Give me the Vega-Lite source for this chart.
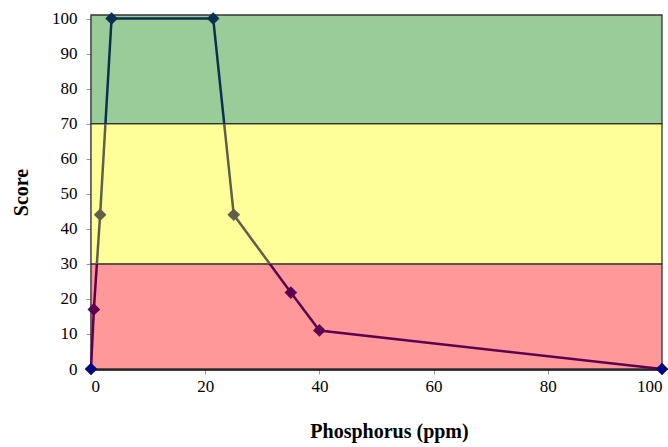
{
  "$schema": "https://vega.github.io/schema/vega-lite/v6.json",
  "width": 571,
  "height": 354,
  "autosize": {"type": "none"},
  "padding": {"left": 91, "top": 15, "right": 6, "bottom": 78},
  "background": "white",
  "config": {
    "view": {"stroke": null},
    "font": "Liberation Serif",
    "axis": {
      "labelFont": "Liberation Serif",
      "titleFont": "Liberation Serif",
      "labelFontSize": 17,
      "labelColor": "#000",
      "labelOverlap": false,
      "titleFontSize": 20,
      "titleFontWeight": "bold",
      "titleColor": "#000",
      "grid": false,
      "tickColor": "#999",
      "tickSize": 5,
      "domainColor": "#000"
    }
  },
  "datasets": {
    "bands": [
      {"lo": 0, "hi": 30, "zone": "low"},
      {"lo": 30, "hi": 70, "zone": "medium"},
      {"lo": 70, "hi": 101, "zone": "high"}
    ],
    "curve": [
      {"ppm": 0, "score": 0},
      {"ppm": 0.5, "score": 17},
      {"ppm": 1.6, "score": 44},
      {"ppm": 3.6, "score": 100},
      {"ppm": 21.4, "score": 100},
      {"ppm": 25, "score": 44},
      {"ppm": 35, "score": 21.8},
      {"ppm": 40, "score": 11},
      {"ppm": 100, "score": 0}
    ]
  },
  "layer": [
    {
      "data": {"name": "bands"},
      "mark": {"type": "rect", "stroke": "#333", "strokeWidth": 1.3},
      "encoding": {
        "x": {"datum": 0, "type": "quantitative", "scale": {"domain": [0, 100], "nice": false, "zero": false},
          "axis": {"values": [0, 20, 40, 60, 80, 100], "title": "Phosphorus (ppm)", "titlePadding": 27, "titleX": 298, "labelPadding": 4, "domainWidth": 2.5, "labelOverlap": false}},
        "x2": {"datum": 100},
        "y": {"field": "lo", "type": "quantitative", "scale": {"domain": [0, 101], "nice": false},
          "axis": {"values": [0, 10, 20, 30, 40, 50, 60, 70, 80, 90, 100], "title": "Score", "titlePadding": 20, "labelPadding": 9, "domainWidth": 1.5, "labelOverlap": false}},
        "y2": {"field": "hi"},
        "fill": {"field": "zone", "type": "nominal", "legend": null,
          "scale": {"domain": ["low", "medium", "high"], "range": ["#ff9999", "#ffff99", "#99cc99"]}}
      }
    },
    {
      "data": {"name": "curve"},
      "mark": {
        "type": "line",
        "strokeWidth": 2.5,
        "stroke": {
          "gradient": "linear",
          "x1": 0, "y1": 0, "x2": 0, "y2": 1,
          "stops": [
            {"offset": 0, "color": "#0a3050"},
            {"offset": 0.3, "color": "#0a3050"},
            {"offset": 0.3, "color": "#5f5f4a"},
            {"offset": 0.7, "color": "#5f5f4a"},
            {"offset": 0.7, "color": "#5c0050"},
            {"offset": 1, "color": "#5c0050"}
          ]
        }
      },
      "encoding": {
        "x": {"field": "ppm", "type": "quantitative",
          "axis": {"values": [0, 20, 40, 60, 80, 100], "title": "Phosphorus (ppm)", "titlePadding": 27, "titleX": 298, "labelPadding": 4, "domainWidth": 2.5, "labelOverlap": false}},
        "y": {"field": "score", "type": "quantitative",
          "axis": {"values": [0, 10, 20, 30, 40, 50, 60, 70, 80, 90, 100], "title": "Score", "titlePadding": 20, "labelPadding": 9, "domainWidth": 1.5, "labelOverlap": false}}
      }
    },
    {
      "data": {"name": "curve"},
      "mark": {"type": "point", "shape": "diamond", "filled": true, "size": 160, "opacity": 1},
      "encoding": {
        "x": {"field": "ppm", "type": "quantitative",
          "axis": {"values": [0, 20, 40, 60, 80, 100], "title": "Phosphorus (ppm)", "titlePadding": 27, "titleX": 298, "labelPadding": 4, "domainWidth": 2.5, "labelOverlap": false}},
        "y": {"field": "score", "type": "quantitative",
          "axis": {"values": [0, 10, 20, 30, 40, 50, 60, 70, 80, 90, 100], "title": "Score", "titlePadding": 20, "labelPadding": 9, "domainWidth": 1.5, "labelOverlap": false}},
        "color": {
          "condition": [
            {"test": "datum.score >= 70", "value": "#0a3050"},
            {"test": "datum.score >= 30", "value": "#5f5f4a"},
            {"test": "datum.score > 0", "value": "#5c0050"}
          ],
          "value": "#000080"
        }
      }
    }
  ]
}
